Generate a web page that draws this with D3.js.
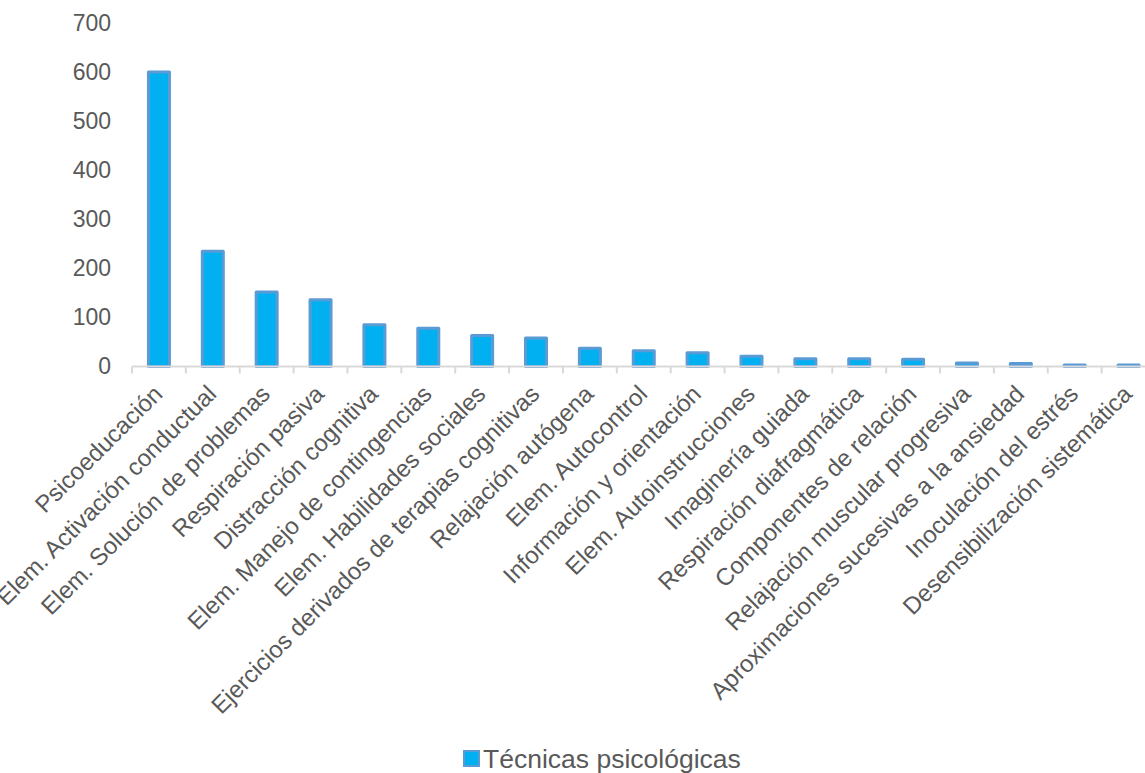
<!DOCTYPE html>
<html>
<head>
<meta charset="utf-8">
<script src="https://cdn.jsdelivr.net/npm/d3@7"></script>
<style>
  html, body { margin: 0; padding: 0; background: #fff; }
  svg { display: block; font-family: "Liberation Sans", Arial, sans-serif; }
</style>
</head>
<body>
<div id="chart"></div>
<script>
// Técnicas psicológicas: number of times each technique appears
const categories = [
  "Psicoeducación",
  "Elem. Activación conductual",
  "Elem. Solución de problemas",
  "Respiración pasiva",
  "Distracción cognitiva",
  "Elem. Manejo de contingencias",
  "Elem. Habilidades sociales",
  "Ejercicios derivados de terapias cognitivas",
  "Relajación autógena",
  "Elem. Autocontrol",
  "Información y orientación",
  "Elem. Autoinstrucciones",
  "Imaginería guiada",
  "Respiración diafragmática",
  "Componentes de relación",
  "Relajación muscular progresiva",
  "Aproximaciones sucesivas a la ansiedad",
  "Inoculación del estrés",
  "Desensibilización sistemática"
];
const values = [600, 235, 152, 136, 85, 78, 63, 58, 37, 32, 28, 21, 16, 16, 15, 7, 6, 3, 3];
const yTicks = [0, 100, 200, 300, 400, 500, 600, 700];
const seriesName = "Técnicas psicológicas";

const W = 1145, H = 773;
const x0 = 132, x1 = 1155.5, yBase = 366.5, yTop = 23;

const svg = d3.select("#chart").append("svg")
  .attr("width", W).attr("height", H);

const x = d3.scaleBand().domain(categories).range([x0, x1]).padding(0);
const y = d3.scaleLinear().domain([0, 700]).range([yBase, yTop]);

// value axis labels (no axis line, no gridlines)
const yAxis = svg.append("g")
  .attr("transform", `translate(${x0 - 21},0)`)
  .call(d3.axisLeft(y).tickValues(yTicks).tickSize(0).tickPadding(0));
yAxis.select(".domain").remove();
yAxis.selectAll("text")
  .attr("fill", "#595959")
  .style("font-size", "23px");

// bars
const barW = 21;
svg.append("g").selectAll("rect")
  .data(values)
  .join("rect")
  .attr("x", (d, i) => x(categories[i]) + x.bandwidth() / 2 - barW / 2)
  .attr("y", d => y(d))
  .attr("width", barW)
  .attr("height", d => yBase - y(d))
  .attr("fill", "#00B0F0")
  .attr("stroke", "#5B9BD5")
  .attr("stroke-width", 3)
  .attr("stroke-linejoin", "round");

// category axis: line with ticks at the band boundaries
const xg = svg.append("g");
xg.append("line")
  .attr("x1", x0).attr("x2", x1)
  .attr("y1", yBase).attr("y2", yBase)
  .attr("stroke", "#D9D9D9").attr("stroke-width", 2);
xg.selectAll("line.tick")
  .data(categories)
  .join("line")
  .attr("class", "tick")
  .attr("x1", d => x(d)).attr("x2", d => x(d))
  .attr("y1", yBase).attr("y2", yBase + 7)
  .attr("stroke", "#D9D9D9").attr("stroke-width", 2);

// rotated category labels
xg.selectAll("text")
  .data(categories)
  .join("text")
  .attr("transform", d => `translate(${x(d) + x.bandwidth() / 2 - 1},${yBase + 23}) rotate(-45)`)
  .attr("text-anchor", "end")
  .attr("dy", "0.35em")
  .attr("fill", "#595959")
  .style("font-size", "24px")
  .text(d => d);

// legend
const lg = svg.append("g").attr("transform", "translate(464,751)");
lg.append("rect")
  .attr("width", 15).attr("height", 15)
  .attr("fill", "#00B0F0").attr("stroke", "#5B9BD5").attr("stroke-width", 2);
lg.append("text")
  .attr("x", 19).attr("y", 16.5)
  .attr("fill", "#595959")
  .style("font-size", "26.5px")
  .text(seriesName);
</script>
</body>
</html>
